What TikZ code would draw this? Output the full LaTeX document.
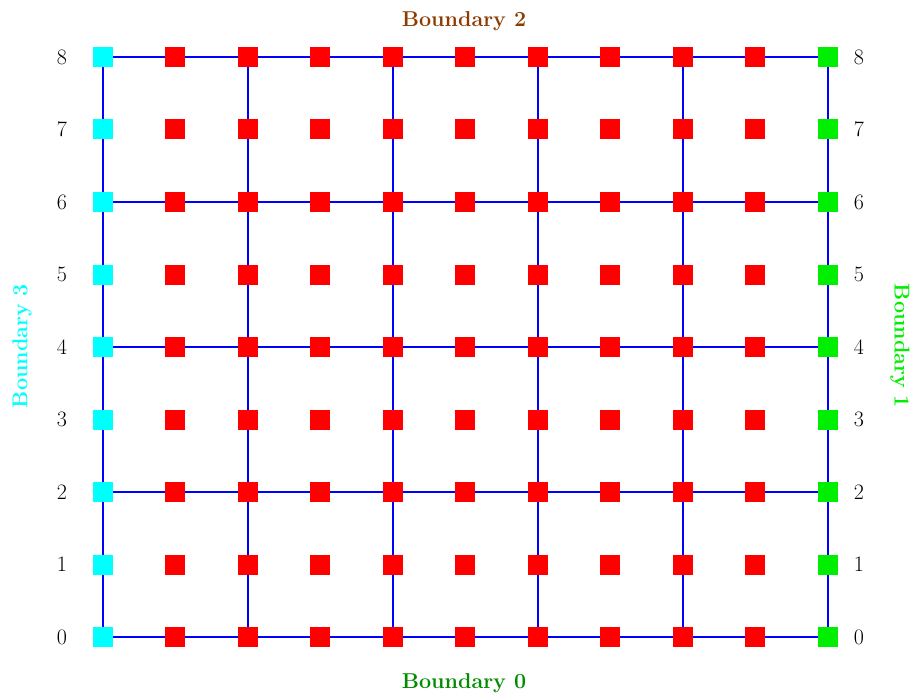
\documentclass[tikz,border=0pt]{standalone}
\usetikzlibrary{backgrounds}
\definecolor{bblue}{RGB}{0,0,255}
\definecolor{bred}{RGB}{255,0,0}
\definecolor{bcyan}{RGB}{0,255,255}
\definecolor{bgreen}{RGB}{0,238,0}
\definecolor{dgreen}{RGB}{0,140,0}
\definecolor{bbrown}{RGB}{140,60,0}
\begin{document}
\begin{tikzpicture}[x=1pt,y=-1pt,
  sq/.style={rectangle,minimum size=20pt,inner sep=0pt,fill=#1,draw=none},
  gridline/.style={draw=bblue,line width=2pt},
  numlab/.style={font=\fontsize{22}{24}\selectfont,text=black},
  blab/.style={font=\fontsize{21.5}{24}\selectfont\bfseries,text=#1}]
\useasboundingbox (0,0) rectangle (913,695);
\foreach \i in {0,...,10}{
  \foreach \j in {0,...,8}{
    \pgfmathsetmacro{\xx}{102.5+72.55*\i}
    \pgfmathsetmacro{\yy}{637-72.5*\j}
    \ifnum\i=0
      \node[sq=bcyan] (p-\i-\j) at (\xx,\yy) {};
    \else\ifnum\i=10
      \node[sq=bgreen] (p-\i-\j) at (\xx,\yy) {};
    \else
      \node[sq=bred] (p-\i-\j) at (\xx,\yy) {};
    \fi\fi
  }
}
\begin{scope}[on background layer]
\foreach \j in {0,2,4,6,8}{
  \draw[gridline] (p-0-\j.center) -- (p-10-\j.center);
}
\foreach \i in {0,2,4,6,8,10}{
  \draw[gridline] (p-\i-0.center) -- (p-\i-8.center);
}
\end{scope}
\foreach \j in {0,...,8}{
  \pgfmathsetmacro{\yy}{637-72.5*\j}
  \node[numlab] (l-\j) at (62,\yy) {\j};
  \node[numlab] (r-\j) at (859,\yy) {\j};
}
\node[blab=bbrown] (b2) at (464,21) {Boundary 2};
\node[blab=dgreen] (b0) at (464,683) {Boundary 0};
\node[blab=bcyan,rotate=90] (b3) at (22,346) {Boundary 3};
\node[blab=bgreen,rotate=-90] (b1) at (900,346) {Boundary 1};
\end{tikzpicture}
\end{document}
